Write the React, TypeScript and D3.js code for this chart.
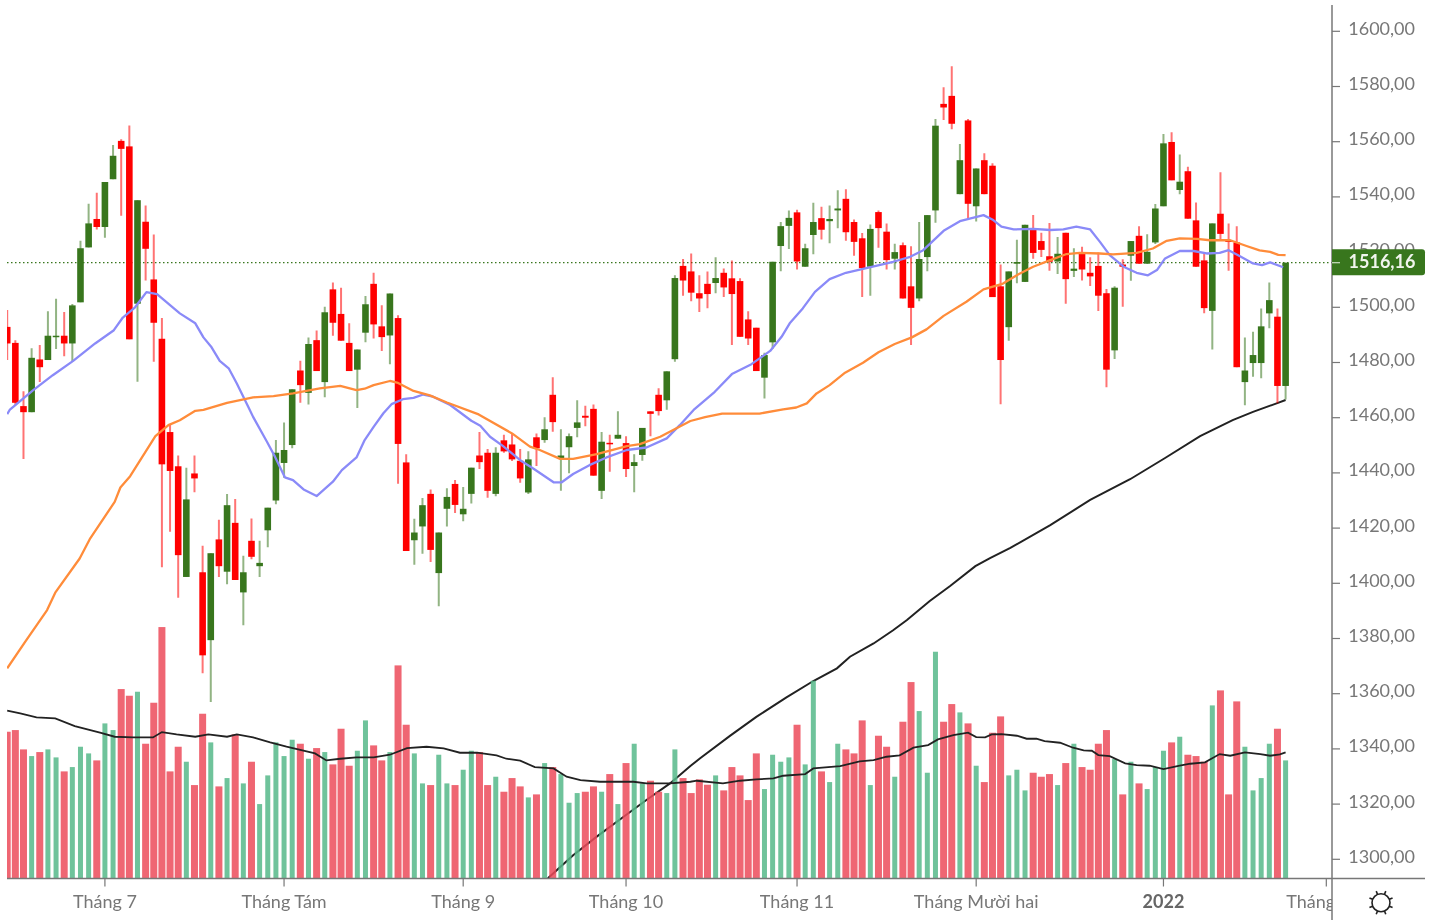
import React from "react";
import * as d3 from "d3";

const opens = [1492.9,1487.1,1464.2,1462.0,1481.1,1480.9,1489.2,1489.7,1486.9,1501.8,
1521.7,1532.0,1529.1,1546.4,1560.3,1558.3,1501.3,1531.0,1510.1,1488.6,
1454.8,1442.4,1402.3,1439.8,1404.0,1379.4,1415.9,1404.2,1421.9,1396.7,
1415.4,1406.2,1419.2,1430.0,1443.6,1450.1,1477.1,1469.0,1488.1,1472.9,
1506.5,1497.6,1487.1,1477.4,1490.8,1508.5,1493.1,1489.8,1496.1,1443.8,
1415.6,1420.6,1432.4,1403.7,1427.0,1436.0,1425.0,1432.4,1446.3,1447.3,
1432.4,1451.8,1450.3,1444.4,1432.9,1452.9,1451.9,1468.3,1445.1,1449.3,
1456.3,1460.7,1463.2,1433.5,1450.9,1452.4,1450.8,1442.5,1446.5,1462.3,
1468.3,1466.3,1481.2,1515.0,1513.0,1505.1,1508.5,1508.8,1512.5,1510.5,
1509.5,1495.6,1492.6,1474.5,1487.3,1522.2,1529.5,1534.4,1514.7,1526.2,
1532.3,1531.2,1535.1,1539.3,1530.9,1525.0,1514.7,1534.5,1527.4,1517.6,
1522.5,1507.6,1503.2,1518.2,1535.1,1573.7,1576.6,1541.0,1567.7,1536.6,
1553.3,1551.3,1507.6,1492.8,1515.8,1509.2,1528.4,1524.0,1518.5,1516.6,
1527.0,1513.2,1519.9,1512.5,1515.0,1505.1,1484.4,1515.5,1518.7,1525.9,
1515.8,1523.5,1536.6,1559.9,1542.5,1549.3,1531.5,1517.0,1498.7,1533.9,
1524.2,1523.5,1472.9,1479.8,1479.8,1497.8,1496.6,1471.5];

const highs = [1499.0,1488.1,1469.6,1485.2,1486.3,1498.6,1503.1,1498.3,1501.2,1524.1,
1537.5,1541.5,1545.4,1558.8,1560.9,1565.9,1538.8,1536.9,1526.4,1496.1,
1457.7,1446.3,1441.9,1446.3,1413.6,1410.9,1423.0,1432.4,1430.5,1410.0,
1423.5,1415.4,1427.4,1451.9,1458.3,1470.3,1480.6,1489.1,1491.6,1500.2,
1509.0,1507.1,1494.2,1484.7,1504.1,1512.5,1500.7,1505.0,1497.1,1446.8,
1423.4,1430.9,1434.0,1418.4,1434.4,1437.4,1434.9,1441.9,1454.8,1448.7,
1449.3,1453.8,1454.5,1448.7,1447.8,1454.3,1460.2,1474.7,1455.8,1454.3,
1466.3,1464.3,1464.8,1454.8,1453.8,1462.3,1453.3,1446.8,1456.3,1462.3,
1470.7,1476.8,1511.6,1517.5,1519.5,1511.6,1513.0,1518.1,1514.1,1517.0,
1510.5,1498.6,1492.6,1483.5,1516.5,1530.9,1535.1,1535.3,1523.0,1537.9,
1536.4,1536.9,1542.4,1542.8,1531.8,1526.9,1530.0,1535.1,1530.4,1523.0,
1523.5,1522.1,1530.9,1533.4,1568.2,1579.7,1587.3,1559.2,1568.2,1550.3,
1555.8,1552.2,1515.5,1513.0,1524.5,1529.9,1533.4,1527.0,1530.5,1525.5,
1527.0,1521.4,1521.9,1518.1,1519.9,1506.6,1507.6,1517.4,1524.0,1529.4,
1526.5,1537.4,1562.8,1563.4,1555.4,1550.9,1538.0,1520.0,1530.4,1548.9,
1530.4,1529.4,1489.1,1491.1,1499.6,1509.0,1499.6,1516.16];

const lows = [1480.9,1464.6,1445.0,1462.0,1472.9,1480.9,1484.9,1482.3,1480.3,1501.8,
1521.7,1528.2,1525.2,1546.4,1533.2,1488.4,1473.0,1509.7,1480.3,1405.8,
1418.7,1394.8,1402.3,1433.0,1367.4,1357.0,1402.3,1399.7,1401.2,1384.8,
1408.7,1402.3,1413.1,1428.6,1438.2,1448.9,1465.4,1464.8,1476.9,1467.4,
1489.7,1487.9,1476.9,1463.5,1487.3,1488.7,1484.2,1479.4,1436.1,1411.7,
1406.7,1410.7,1407.7,1391.7,1420.6,1425.5,1422.5,1428.9,1441.4,1431.0,
1431.5,1447.3,1444.3,1436.4,1432.4,1442.5,1450.9,1454.9,1433.5,1439.9,
1452.9,1456.9,1439.0,1430.5,1440.4,1452.4,1438.5,1433.0,1444.4,1453.3,
1460.8,1462.9,1480.3,1504.2,1502.2,1498.3,1499.7,1505.1,1503.7,1486.3,
1489.3,1486.3,1476.9,1467.0,1485.0,1513.1,1521.1,1513.7,1514.7,1519.2,
1524.6,1523.2,1528.6,1524.1,1518.7,1503.7,1504.2,1521.6,1513.7,1513.7,
1503.2,1486.3,1502.2,1513.1,1530.6,1567.9,1564.5,1541.0,1531.6,1531.1,
1541.0,1503.7,1464.9,1487.9,1508.7,1509.2,1517.6,1518.2,1513.2,1512.1,
1501.3,1511.0,1509.7,1507.7,1498.7,1471.0,1481.3,1500.2,1509.6,1515.8,
1515.8,1522.9,1536.6,1546.0,1541.0,1532.1,1514.7,1497.8,1484.7,1524.2,
1513.2,1478.3,1464.5,1474.8,1474.3,1492.4,1465.2,1466.6];

const closes = [1486.9,1465.4,1462.0,1481.7,1478.3,1489.7,1489.7,1486.9,1500.7,1521.4,
1530.4,1529.1,1545.4,1554.9,1557.4,1488.4,1538.8,1521.2,1494.4,1443.1,
1440.7,1410.2,1430.4,1438.0,1373.9,1410.9,1406.2,1428.3,1401.2,1404.0,
1409.6,1407.4,1427.4,1447.3,1448.3,1470.3,1471.8,1486.7,1476.9,1498.2,
1494.4,1487.9,1476.9,1484.7,1501.1,1493.8,1489.2,1505.0,1450.5,1411.7,
1418.4,1428.3,1412.1,1418.4,1431.3,1428.4,1427.0,1441.9,1443.9,1433.5,
1447.3,1447.8,1444.9,1438.0,1444.9,1448.9,1455.8,1458.4,1446.3,1453.3,
1458.3,1460.0,1439.0,1451.3,1450.4,1453.8,1441.4,1443.9,1456.3,1461.4,
1462.4,1476.8,1510.6,1509.7,1505.3,1503.2,1504.8,1510.6,1507.2,1504.8,
1489.3,1488.7,1476.9,1482.7,1516.5,1529.4,1532.4,1516.6,1521.4,1530.9,
1528.1,1532.0,1535.8,1527.2,1523.7,1514.2,1528.4,1528.7,1517.1,1520.0,
1503.2,1499.8,1517.5,1533.4,1565.8,1572.4,1566.5,1553.3,1537.5,1550.3,
1541.0,1503.7,1480.9,1513.0,1516.4,1529.9,1519.7,1520.8,1516.5,1519.4,
1510.2,1514.0,1513.7,1511.2,1504.2,1477.4,1507.1,1514.7,1524.0,1515.8,
1520.1,1535.8,1559.4,1546.0,1545.5,1532.1,1514.7,1499.7,1530.4,1526.6,
1523.7,1478.3,1477.1,1482.7,1493.1,1502.6,1471.5,1516.16];

const volumes = [440,445,387,367,379,387,363,321,334,395,
375,354,465,445,568,548,560,404,527,754,
321,395,350,280,494,408,276,301,432,285,
350,223,309,408,367,416,404,359,391,379,
342,449,338,383,474,399,354,379,639,461,
375,285,280,371,285,280,326,383,379,280,
305,260,301,276,243,252,346,334,313,227,
256,260,276,260,313,223,346,404,285,293,
260,256,387,301,256,297,281,309,264,334,
309,235,375,268,371,350,363,461,342,593,
321,289,404,387,375,474,280,428,395,305,
470,589,502,317,680,470,523,498,465,338,
289,437,486,309,326,264,317,305,313,280,
346,404,334,326,404,445,358,252,350,285,
268,334,383,408,425,371,367,350,519,564,
252,531,395,264,301,404,449,354];

const blueAt = [0,0.3,3.2,5.6,8.1,10.8,13.1,14.2,15.7,17.1,18.4,21.2,23.1,24.1,25.1,26.1,27.2,28.2,29.6,30.2,31.9,32.9,34.1,35.1,36.4,38,40,41.1,42.9,43.9,45,46.2,47.2,48.6,49.9,51.1,52.3,54.4,57,58.1,59.3,60.9,63,64.6,67.1,68.1,69.5,71.5,73.6,76.1,78.5,81,82.6,84.3,86.9,89,91.4,93.7,95.1,96.1,97.7,99.2,101,103,105.9,108.8,110.9,112.5,115,117,119.9,121.1,122.1,123.6,126,128.1,129.7,131.3,133,134.2,135.4,137.1,138.7,140.1,141.2,142.2,144,145.7,147.3,148.9,150,151.4,153,154.1,155.1,156.7];
const blueMA = [1461.3,1462.8,1470,1475.4,1480.6,1486.9,1491.7,1496.3,1500,1505.5,1504.8,1497.8,1494.2,1489.1,1485.5,1480.6,1477.9,1472.4,1464,1460.3,1451.3,1445.8,1438.4,1437.4,1434,1431.6,1436.8,1441,1445.6,1451.9,1456.7,1461.6,1464.9,1466.7,1467.2,1468.4,1467.6,1464.6,1458.9,1457.1,1453.1,1449.7,1444.6,1441.6,1436.6,1436.6,1439.6,1442.8,1445.6,1448.3,1449.2,1452.5,1457.3,1462.8,1469.4,1475.8,1479.4,1484.2,1489.3,1494.2,1499.6,1505.6,1510.2,1512.5,1514.5,1516.5,1518.3,1520.7,1527.7,1531.2,1533.4,1531.6,1529.2,1528.2,1528.4,1528,1528.2,1529.2,1528.2,1523.7,1518.9,1514.7,1512.5,1511.6,1513.5,1517.7,1520.4,1520.4,1519.5,1519.7,1520.7,1518.5,1515.9,1515.3,1516.3,1514.5];

const orangeAt = [0,2.2,4.9,5.9,8.9,10.2,13.2,13.9,15.1,18.2,19.8,21.2,23.1,24.1,27,30.2,32.7,35.1,38.4,40.9,42.9,43.9,45,47,48,49.9,51.9,54,57.9,62,64.2,65.4,67.9,69.5,72.4,76.1,77.7,80.2,83.9,85.7,87.8,92.4,95.3,96.9,98.2,99.4,101,102.9,105.1,107,109,111.1,112.9,115,117.8,119.9,122.3,124.2,126,128.1,130.1,131.7,134.2,135.8,138.7,140.7,142.4,144,146.1,147.7,150.2,152.2,153.8,155.1,156.1,157];
const orangeMA = [1369.2,1378.8,1390.3,1396.6,1409,1416.3,1429.5,1434.7,1438.8,1453.3,1457.3,1459.1,1462.5,1462.8,1465.4,1467.4,1467.8,1468.8,1470.6,1471.5,1470,1470.5,1471.8,1473.3,1472.6,1469.7,1468.1,1465.5,1461.2,1454.3,1449.5,1448.3,1445.1,1445.1,1446.8,1449.7,1450.4,1453.1,1458.8,1460.2,1461.5,1461.5,1463,1463.7,1465.2,1468.8,1471.8,1476.3,1479.9,1483.7,1486.7,1489.1,1492,1496.9,1502,1506.5,1508.6,1512,1514.7,1517.1,1519.3,1519.7,1519.5,1519.2,1519.7,1521.3,1524.1,1525,1524.8,1524.3,1524.3,1522.2,1520.6,1520.1,1519,1518.9];

const blackAt = [66.4,69.5,72.4,75.7,78.5,81.4,83.9,85.1,88.8,92,95.7,99,101.9,103.5,106.4,108.8,110.5,113.3,115.8,118.9,120.7,123.2,128.1,133,137.9,142.2,146.5,150.5,153,155.9,157];
const blackMA = [1293.1,1301.5,1308.2,1315.4,1321.5,1327.5,1333.8,1336.6,1344.8,1351.6,1358.7,1364.6,1369.2,1373.4,1378.2,1383,1386.7,1393.6,1399,1406.2,1409.1,1412.8,1421.1,1430.2,1437.7,1445.4,1453.3,1459.1,1462.1,1465.2,1466.4];

const volMAAt = [0,1.6,3.6,5.9,8.3,11.4,13.2,15.5,17.9,19,20.8,23.1,24.7,27,28.2,30.2,32.3,34.3,37.8,39.2,40.9,42.9,45,47,49.1,51.5,53.6,55.6,57.7,60.1,61.3,63,64.8,67.1,68.7,70.4,72.8,76.9,78.5,81.4,83.9,84.7,87.9,90,92,94.1,95.3,98,99,102.3,104.7,106.4,108,109.6,111.3,113.1,114.3,116.2,118,119,120.1,120.9,122.1,124,125.2,126.4,127.4,129.3,130.9,132.2,133.2,134,135.4,137.3,138.7,140.3,142,144,145.3,147.1,148.9,150.2,152,153.9,155.1,156.3,157];
const volMA = [503,495,483,480,457,437,425,423,423,439,432,425,432,425,432,423,408,395,375,354,359,363,363,371,391,395,390,377,377,369,359,353,334,330,305,295,290,290,285,285,290,293,285,293,297,300,308,313,330,337,351,355,365,369,392,400,417,430,437,424,423,432,433,428,419,419,412,407,392,384,383,370,367,345,340,338,328,338,344,348,373,368,378,373,368,372,378];

const priceTicks = [1600,1580,1560,1540,1520,1500,1480,1460,1440,1420,1400,1380,1360,1340,1320,1300];
const monthLabels = ["Tháng 7","Tháng Tám","Tháng 9","Tháng 10","Tháng 11","Tháng Mười hai","2022","Tháng Hai"];
const monthAt = [12,34,56,76,97,119,142,162];

const W = 1432, H = 920, AXIS_X = 1332, BASE_Y = 878.4, LEFT = 7;
const UP = "#38761d", DOWN = "#ff0000", VOL_UP = "#56b889", VOL_DOWN = "#ec4b5b";
const FONT = "Lato, 'Open Sans', sans-serif", TEXT = "#777777";

const x = d3.scaleLinear().domain([0, 157]).range([7.2, 1285.6]);
const y = d3.scaleLinear().domain([1300, 1600]).range([859.3, 31.3]);
const yVol = d3.scaleLinear().domain([0, 900]).range([BASE_Y, BASE_Y - 300]);
const fmt = (v: number) => d3.format(".2f")(v).replace(".", ",");

function linePath(at: number[], vals: number[], sy: (v: number) => number) {
  const gen = d3.line<number>().x((d) => x(d)).y((_, i) => sy(vals[i])).curve(d3.curveLinear);
  return gen(at) || "";
}

export default function App() {
  const last = closes[closes.length - 1];
  const lastY = y(last);
  const gearR = d3.range(8).map((i) => (i * Math.PI) / 4 + Math.PI / 8);
  return (
    <svg width={W} height={H} style={{ position: "absolute", left: 0, top: 0, display: "block", background: "#fff", filter: "blur(0.45px)" }}>
      <defs>
        <clipPath id="plot"><rect x={LEFT} y={0} width={AXIS_X - LEFT} height={BASE_Y} /></clipPath>
        <clipPath id="xaxis"><rect x={LEFT} y={BASE_Y} width={AXIS_X - LEFT} height={H - BASE_Y} /></clipPath>
      </defs>
      <g clipPath="url(#plot)">
        <path d={linePath(blackAt, blackMA, y)} fill="none" stroke="#222" strokeWidth={2} />
        {volumes.map((v, i) => {
          const up = closes[i] >= opens[i];
          const w = up ? 5 : 7;
          return <rect key={i} x={x(i) - w / 2} y={yVol(v)} width={w} height={BASE_Y - yVol(v)} fill={up ? VOL_UP : VOL_DOWN} fillOpacity={0.85} />;
        })}
        <path d={linePath(volMAAt, volMA, yVol)} fill="none" stroke="#222" strokeWidth={1.8} />
        <line x1={LEFT} x2={AXIS_X} y1={lastY} y2={lastY} stroke={UP} strokeWidth={1.2} strokeDasharray="1.5 2.5" />
        {opens.map((o, i) => {
          const c = closes[i];
          const up = c >= o;
          const col = up ? UP : DOWN;
          const top = y(Math.max(o, c));
          const bot = y(Math.min(o, c));
          return (
            <g key={i}>
              <line x1={x(i)} x2={x(i)} y1={y(highs[i])} y2={y(lows[i])} stroke={col} strokeOpacity={0.55} strokeWidth={2} />
              <rect x={x(i) - 3.3} y={top} width={6.6} height={Math.max(bot - top, 1.5)} fill={col} />
            </g>
          );
        })}
        <path d={linePath(blueAt, blueMA, y)} fill="none" stroke="#8a8af8" strokeWidth={2.3} strokeLinejoin="round" />
        <path d={linePath(orangeAt, orangeMA, y)} fill="none" stroke="#ff8c3a" strokeWidth={2.3} strokeLinejoin="round" />
      </g>

      <line x1={LEFT} x2={1425} y1={BASE_Y} y2={BASE_Y} stroke="#777" strokeWidth={1.5} />
      <line x1={AXIS_X} x2={AXIS_X} y1={5} y2={H} stroke="#777" strokeWidth={1.5} />

      {priceTicks.map((t) => (
        <g key={t}>
          <line x1={AXIS_X} x2={AXIS_X + 8} y1={y(t)} y2={y(t)} stroke="#777" strokeWidth={1.2} />
          <text x={1415} y={y(t) + 3.5} textAnchor="end" fontFamily={FONT} fontSize={18} fill={TEXT}>{fmt(t)}</text>
        </g>
      ))}

      <path d={`M${AXIS_X} ${lastY - 13.4}H1422a3 3 0 0 1 3 3v20a3 3 0 0 1 -3 3H${AXIS_X}Z`} fill={UP} />
      <line x1={AXIS_X} x2={AXIS_X + 8} y1={lastY} y2={lastY} stroke="#cfe0c6" strokeWidth={1.2} />
      <text x={1382} y={lastY + 5.7} textAnchor="middle" fontFamily={FONT} fontSize={18} fontWeight={700} fill="#f1f5ee">{fmt(last)}</text>

      <g clipPath="url(#xaxis)">
        {monthAt.map((m, i) => (
          <g key={m}>
            <line x1={x(m)} x2={x(m)} y1={BASE_Y} y2={BASE_Y + 8} stroke="#777" strokeWidth={1.2} />
            <text x={x(m)} y={908} textAnchor="middle" fontFamily={FONT} fontSize={18} fontWeight={monthLabels[i] === "2022" ? 700 : 400} fill={monthLabels[i] === "2022" ? "#666" : TEXT}>{monthLabels[i]}</text>
          </g>
        ))}
      </g>

      <g transform="translate(1381,902.7)" stroke="#222" fill="none" strokeWidth={1.6}>
        <circle r={9} />
        {gearR.map((a, i) => (
          <line key={i} x1={9 * Math.cos(a)} y1={9 * Math.sin(a)} x2={12.5 * Math.cos(a)} y2={12.5 * Math.sin(a)} />
        ))}
      </g>
    </svg>
  );
}
